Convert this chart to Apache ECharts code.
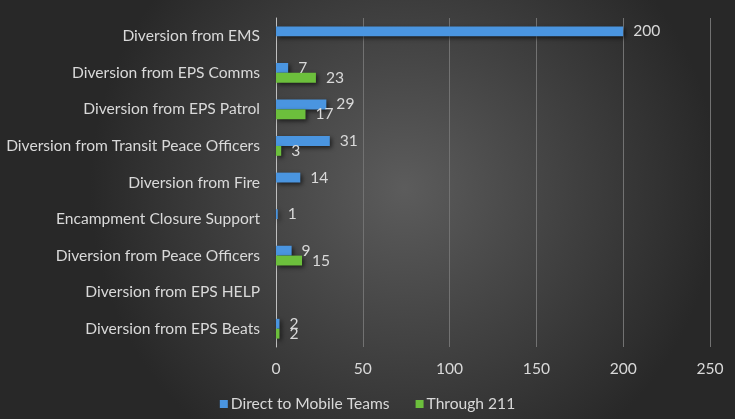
<!DOCTYPE html>
<html>
<head>
<meta charset="utf-8">
<script src="https://cdn.jsdelivr.net/npm/echarts@6/dist/echarts.min.js"></script>
<style>
html,body{margin:0;padding:0;background:#3a3a3a;}
#c{width:735px;height:419px;}
</style>
</head>
<body>
<div id="c"></div>
<script>
const categories = [
  "Diversion from EMS",
  "Diversion from EPS Comms",
  "Diversion from EPS Patrol",
  "Diversion from Transit Peace Officers",
  "Diversion from Fire",
  "Encampment Closure Support",
  "Diversion from Peace Officers",
  "Diversion from EPS HELP",
  "Diversion from EPS Beats"
];
const directToMobileTeams = [200, 7, 29, 31, 14, 1, 9, null, 2];
const through211 = [null, 23, 17, 3, null, null, 15, null, 2];
const xTicks = [0, 50, 100, 150, 200, 250];

const chart = echarts.init(document.getElementById('c'));
const font = "Lato, 'Noto Sans', sans-serif";
const fs = 15.6;
const lbl = {
  show: true, position: 'right', distance: 10,
  color: '#d9d9d9', fontSize: fs, fontFamily: font
};
const shadow = {shadowColor: 'rgba(0,0,0,0.6)', shadowBlur: 4, shadowOffsetX: 2, shadowOffsetY: 2};
chart.setOption({
  backgroundColor: {
    type: 'radial', x: 0.55, y: 0.45, r: 0.75,
    colorStops: [{offset: 0, color: '#5c5c5c'}, {offset: 1, color: '#282828'}]
  },
  animation: false,
  grid: {left: 276, right: 25, top: 18, bottom: 72},
  legend: {
    bottom: 2, left: 'center', itemWidth: 8, itemHeight: 8, itemGap: 26,
    icon: 'rect',
    textStyle: {color: '#d9d9d9', fontSize: fs, fontFamily: font, padding: [0, 0, 0, -2]}
  },
  xAxis: {
    type: 'value', min: xTicks[0], max: xTicks[xTicks.length - 1], interval: 50,
    axisLine: {show: false}, axisTick: {show: false},
    axisLabel: {color: '#d9d9d9', fontSize: fs, fontFamily: font, margin: 14},
    splitLine: {lineStyle: {color: '#727272', width: 1}}
  },
  yAxis: {
    type: 'category', data: categories, inverse: true,
    axisLine: {show: true, lineStyle: {color: '#bfbfbf', width: 1}},
    axisTick: {show: false},
    axisLabel: {color: '#d9d9d9', fontSize: fs, fontFamily: font, margin: 16}
  },
  series: [
    {
      name: 'Direct to Mobile Teams', type: 'bar', data: directToMobileTeams,
      barGap: '0%', barCategoryGap: '46%',
      itemStyle: Object.assign({color: '#4a95e0'}, shadow),
      label: lbl
    },
    {
      name: 'Through 211', type: 'bar', data: through211,
      itemStyle: Object.assign({color: '#6cbf3c'}, shadow),
      label: lbl
    }
  ]
});
</script>
</body>
</html>
